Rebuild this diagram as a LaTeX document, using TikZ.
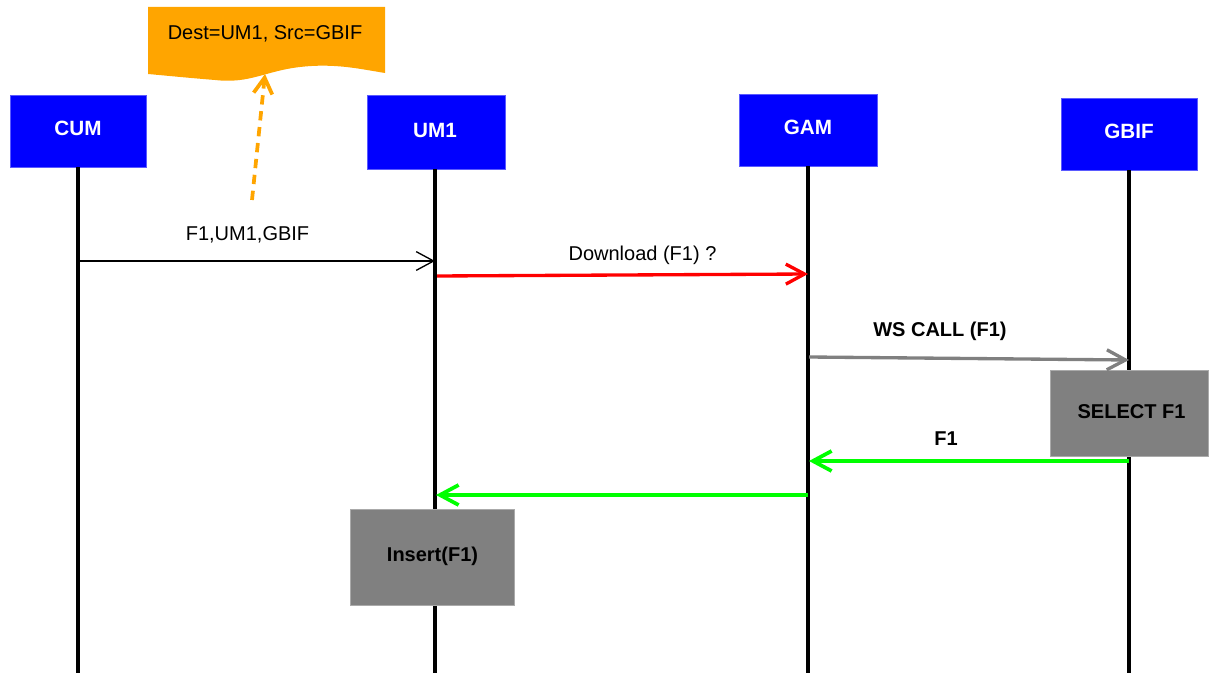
\documentclass[tikz,border=0pt]{standalone}
\usepackage{fontspec}
\setmainfont{Liberation Sans}
\usetikzlibrary{arrows.meta}
\definecolor{hblue}{RGB}{0,0,255}
\definecolor{hborder}{RGB}{90,90,255}
\definecolor{agray}{RGB}{128,128,128}
\definecolor{bgray}{RGB}{170,170,170}
\definecolor{ared}{RGB}{255,0,0}
\definecolor{agreen}{RGB}{0,255,0}
\definecolor{aorange}{RGB}{255,165,0}
\begin{document}
\begin{tikzpicture}[x=0.75pt,y=-0.75pt,
  every node/.style={font=\fontsize{15}{18}\selectfont, inner sep=0pt},
  head/.style={fill=hblue, draw=hborder, line width=0.6pt, text=white, font=\fontsize{15}{18}\selectfont\bfseries},
  actbox/.style={fill=agray, draw=bgray, line width=0.6pt, text=black, font=\fontsize{15}{18}\selectfont\bfseries},
  life/.style={line width=2.3pt, black},
  msgthin/.style={line width=1pt, black, -{Straight Barb[length=13pt,width=14pt]}},
  msgthick/.style={line width=2.5pt, -{Straight Barb[length=14pt,width=15pt]}},
  lbl/.style={anchor=base},
  blbl/.style={anchor=base, font=\fontsize{15}{18}\selectfont\bfseries}
]
\useasboundingbox (0,0) rectangle (1209,673);
% heads
\node[head, minimum width=102pt, minimum height=54pt] (cum) at (78,131) {};
\node[head, minimum width=103pt, minimum height=55pt] (um1) at (436.5,132.5) {};
\node[head, minimum width=103pt, minimum height=54pt] (gam) at (808.5,130) {};
\node[head, minimum width=102pt, minimum height=54pt] (gbif) at (1129,134) {};
\node[anchor=base, text=white, font=\fontsize{15.5}{18}\selectfont\bfseries] (tcum) at (78,136) {CUM};
\node[anchor=base, text=white, font=\fontsize{15.5}{18}\selectfont\bfseries] (tum1) at (435,137.5) {UM1};
\node[anchor=base, text=white, font=\fontsize{15.5}{18}\selectfont\bfseries] (tgam) at (808,135) {GAM};
\node[anchor=base, text=white, font=\fontsize{15.5}{18}\selectfont\bfseries] (tgbif) at (1129,139) {GBIF};
% lifeline ends
\coordinate (cumS) at (78,167.5);
\coordinate (um1S) at (435,169.5);
\coordinate (gamS) at (808,166.5);
\coordinate (gbifS) at (1129,170.5);
\coordinate (cumE) at (78,673);
\coordinate (um1E) at (435,673);
\coordinate (gamE) at (808,673);
\coordinate (gbifE) at (1129,673);
\draw[life] (cumS) -- (cumE);
\draw[life] (um1S) -- (um1E);
\draw[life] (gamS) -- (gamE);
\draw[life] (gbifS) -- (gbifE);
% activation boxes
\node[actbox, minimum width=119pt, minimum height=64pt] (sel) at (1129.5,413.5) {};
\node[anchor=base, font=\fontsize{15}{18}\selectfont\bfseries] (tsel) at (1131.5,418) {SELECT F1};
\node[actbox, minimum width=123pt, minimum height=72pt] (ins) at (432,557) {};
\node[anchor=base, font=\fontsize{15}{18}\selectfont\bfseries] (tins) at (432.5,561.5) {Insert(F1)};
% note
\fill[aorange] (148,7) -- (385,7) -- (385,73)
  .. controls (360,69) and (335,63) .. (300,67)
  .. controls (265,71) and (250,84) .. (215,80)
  .. controls (190,78) and (170,76) .. (148,74) -- cycle;
\node[anchor=base] (note) at (265,40) {Dest=UM1, Src=GBIF};
\coordinate (noteB) at (265,74);
\coordinate (noteS) at (252,200);
\draw[aorange, line width=2.8pt, dash pattern=on 7pt off 5pt, -{Straight Barb[length=12pt,width=14pt]}] (noteS) -- (noteB);
% messages
\coordinate (m1a) at (80,261);
\coordinate (m1b) at (435,261);
\draw[msgthin] (m1a) -- (m1b);
\node[lbl] (l1) at (247.5,241) {F1,UM1,GBIF};
\coordinate (m2a) at (437,276);
\coordinate (m2b) at (808,274);
\draw[msgthick, ared] (m2a) -- (m2b);
\node[lbl] (l2) at (642.5,261) {Download (F1) ?};
\coordinate (m3a) at (809,357);
\coordinate (m3b) at (1129,360);
\draw[msgthick, agray] (m3a) -- (m3b);
\node[blbl] (l3) at (940,336) {WS CALL (F1)};
\coordinate (m4a) at (1129,461);
\coordinate (m4b) at (809,461);
\draw[msgthick, agreen, line width=2.8pt] (m4a) -- (m4b);
\node[blbl] (l4) at (946,445) {F1};
\coordinate (m5a) at (808,495);
\coordinate (m5b) at (436,495);
\draw[msgthick, agreen, line width=2.8pt] (m5a) -- (m5b);
\end{tikzpicture}
\end{document}
